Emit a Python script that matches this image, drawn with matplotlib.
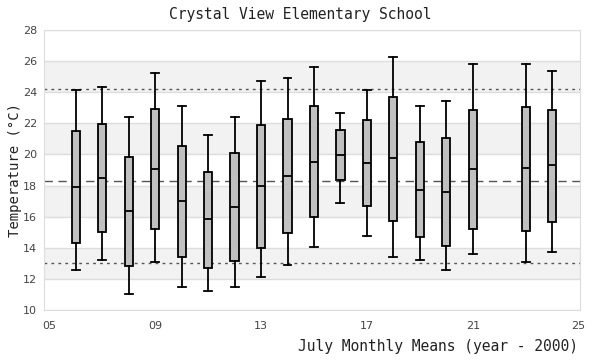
import matplotlib
matplotlib.use("Agg")
import matplotlib.pyplot as plt

# July monthly means per year (year - 2000); 2022 has no data
years = [6, 7, 8, 9, 10, 11, 12, 13, 14, 15, 16, 17, 18, 19, 20, 21, 23, 24]
whis_hi = [24.16, 24.36, 22.43, 25.26, 23.14, 21.27, 22.43, 24.74, 24.94, 25.64, 22.69, 24.16, 26.29, 23.14, 23.46, 25.79, 25.79, 25.39]
q3 = [21.49, 21.98, 19.81, 22.94, 20.56, 18.89, 20.11, 21.91, 22.30, 23.14, 21.59, 22.24, 23.71, 20.82, 21.08, 22.84, 23.07, 22.88]
medians = [17.89, 18.47, 16.34, 19.04, 16.98, 15.83, 16.60, 17.95, 18.59, 19.54, 19.99, 19.47, 19.75, 17.74, 17.61, 19.04, 19.11, 19.30]
q1 = [14.29, 14.99, 12.81, 15.18, 13.38, 12.68, 13.15, 13.96, 14.93, 15.96, 18.38, 16.66, 15.70, 14.67, 14.09, 15.23, 15.10, 15.68]
whis_lo = [12.55, 13.19, 11.01, 13.06, 11.46, 11.20, 11.46, 12.10, 12.87, 14.07, 16.86, 14.78, 13.43, 13.19, 12.55, 13.58, 13.06, 13.71]

upper_ref = 24.2
mean_ref = 18.3
lower_ref = 13.0

yticks = list(range(10, 29, 2))
xticks = [5, 9, 13, 17, 21, 25]
xticklabels = ["05", "09", "13", "17", "21", "25"]

mono = "DejaVu Sans Mono"

fig = plt.figure(figsize=(6, 3.6), dpi=100)
ax = fig.add_axes([44 / 600, 1 - 310 / 360, 536 / 600, 280 / 360])

# alternating bands + grid
for lo in range(12, 28, 4):
    ax.axhspan(lo, lo + 2, color="#f2f2f2", zorder=0, lw=0)
for y in yticks:
    ax.axhline(y, color="#dddddd", lw=1, zorder=0.5)

ax.axhline(upper_ref, color="#555555", lw=1, ls=(0, (2, 3)), zorder=1)
ax.axhline(lower_ref, color="#555555", lw=1, ls=(0, (2, 3)), zorder=1)
ax.axhline(mean_ref, color="#555555", lw=1, ls=(0, (6, 4)), zorder=1)

stats = []
for i in range(len(years)):
    stats.append({"med": medians[i], "q1": q1[i], "q3": q3[i],
                  "whislo": whis_lo[i], "whishi": whis_hi[i], "fliers": []})

lw = 1.3
ax.bxp(stats, positions=years, widths=0.31, patch_artist=True,
       showfliers=False, manage_ticks=False, capwidths=0.3,
       boxprops=dict(facecolor="#c0c0c0", edgecolor="black", linewidth=lw),
       medianprops=dict(color="black", linewidth=lw),
       whiskerprops=dict(color="black", linewidth=lw),
       capprops=dict(color="black", linewidth=lw), zorder=3)

ax.set_xlim(4.8, 25.05)
ax.set_ylim(10, 28)
ax.set_yticks(yticks)
ax.set_xticks(xticks)
ax.set_xticklabels(xticklabels)
ax.tick_params(length=0, labelsize=8, labelcolor="#444444", pad=5)
ax.tick_params(axis="x", pad=8)
for s in ax.spines.values():
    s.set_color("#dddddd")

fig.text(0.5, 1 - 15 / 360, "Crystal View Elementary School", ha="center",
         va="center", family=mono, fontsize=10.5, color="#222222")
fig.text(578 / 600, 1 - 347 / 360, "July Monthly Means (year - 2000)", ha="right",
         va="center", family=mono, fontsize=10.5, color="#222222")
fig.text(15 / 600, 1 - 170 / 360, "Temperature (°C)", ha="center", va="center",
         rotation=90, family=mono, fontsize=10, color="#222222")

fig.savefig("out.png", dpi=100)
